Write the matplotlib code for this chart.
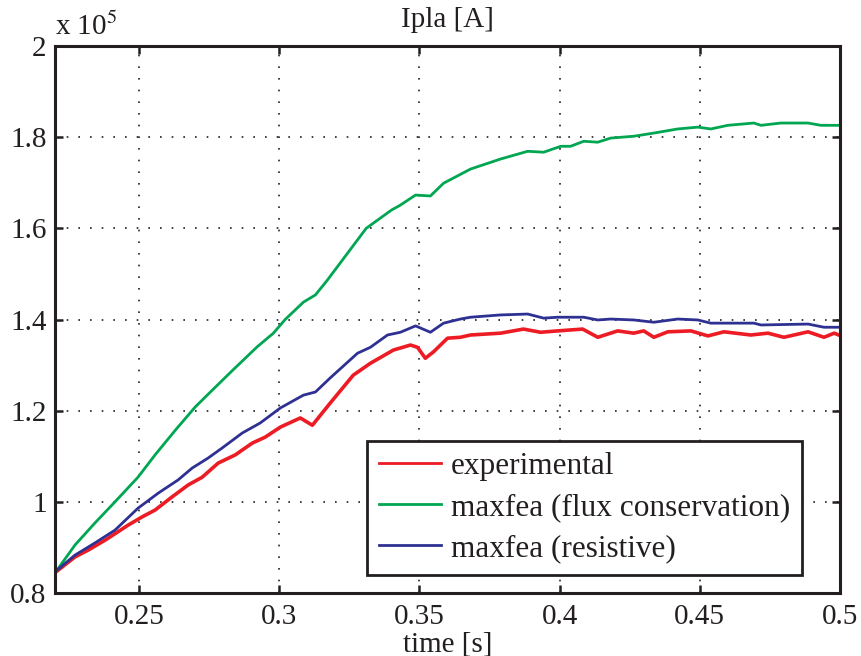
import matplotlib
matplotlib.use("Agg")
import matplotlib.pyplot as plt
from matplotlib.ticker import FixedLocator, FuncFormatter

plt.rcParams['font.family'] = ['Liberation Serif', 'DejaVu Serif']
plt.rcParams['mathtext.fontset'] = 'stix'

# time [s] and Ipla [x 1e5 A]
t_exp = [0.2207, 0.2271, 0.2318, 0.2379, 0.2461, 0.2511, 0.2557, 0.2618, 0.2675, 0.2725,
         0.2782, 0.2843, 0.2904, 0.2950, 0.3004, 0.3075, 0.3118, 0.3182, 0.3264, 0.3325,
         0.3407, 0.3468, 0.3493, 0.3521, 0.3550, 0.3600, 0.3646, 0.3682, 0.3789, 0.3871,
         0.3932, 0.3993, 0.4082, 0.4136, 0.4207, 0.4264, 0.4300, 0.4336, 0.4386, 0.4468,
         0.4529, 0.4586, 0.4682, 0.4743, 0.4800, 0.4886, 0.4943, 0.4979, 0.5004]
i_exp = [0.848, 0.879, 0.894, 0.916, 0.949, 0.967, 0.982, 1.011, 1.037, 1.054,
         1.085, 1.103, 1.129, 1.142, 1.164, 1.184, 1.168, 1.217, 1.278, 1.304,
         1.333, 1.344, 1.339, 1.315, 1.329, 1.359, 1.361, 1.366, 1.370, 1.379,
         1.372, 1.375, 1.379, 1.361, 1.375, 1.370, 1.375, 1.361, 1.373, 1.375,
         1.364, 1.373, 1.366, 1.370, 1.361, 1.373, 1.361, 1.370, 1.364]

t_flux = [0.2207, 0.2271, 0.2343, 0.2414, 0.2496, 0.2557, 0.2629, 0.2700, 0.2761, 0.2836,
          0.2921, 0.2979, 0.3021, 0.3086, 0.3129, 0.3171, 0.3310, 0.3400, 0.3432,
          0.3486, 0.3539, 0.3586, 0.3682, 0.3789, 0.3886, 0.3943, 0.4004, 0.4039, 0.4086,
          0.4136, 0.4182, 0.4264, 0.4336, 0.4421, 0.4493, 0.4539, 0.4600, 0.4693, 0.4718,
          0.4789, 0.4886, 0.4932, 0.5004]
i_flux = [0.850, 0.905, 0.954, 1.000, 1.054, 1.103, 1.157, 1.208, 1.245, 1.290,
          1.340, 1.370, 1.400, 1.438, 1.454, 1.486, 1.600, 1.640, 1.651,
          1.673, 1.671, 1.699, 1.730, 1.752, 1.769, 1.767, 1.780, 1.780, 1.791,
          1.789, 1.798, 1.802, 1.809, 1.818, 1.822, 1.818, 1.826, 1.831, 1.826,
          1.831, 1.831, 1.826, 1.826]

t_res = [0.2207, 0.2271, 0.2343, 0.2414, 0.2496, 0.2568, 0.2639, 0.2689, 0.2746, 0.2796,
         0.2868, 0.2932, 0.3004, 0.3086, 0.3129, 0.3182, 0.3279, 0.3325, 0.3386, 0.3432,
         0.3486, 0.3539, 0.3586, 0.3646, 0.3682, 0.3789, 0.3886, 0.3943, 0.3993, 0.4086,
         0.4136, 0.4182, 0.4264, 0.4336, 0.4421, 0.4493, 0.4539, 0.4693, 0.4718, 0.4886,
         0.4943, 0.5004]
i_res = [0.850, 0.883, 0.910, 0.938, 0.986, 1.019, 1.048, 1.074, 1.096, 1.118,
         1.151, 1.173, 1.206, 1.234, 1.241, 1.272, 1.326, 1.339, 1.366, 1.372,
         1.386, 1.372, 1.392, 1.401, 1.405, 1.410, 1.412, 1.403, 1.405, 1.405,
         1.399, 1.401, 1.399, 1.394, 1.401, 1.399, 1.392, 1.392, 1.388, 1.390,
         1.383, 1.383]

labels = ['experimental', 'maxfea (flux conservation)', 'maxfea (resistive)']
colors = ['#ed1c24', '#00a651', '#2e3192']

x_ticks = [0.25, 0.3, 0.35, 0.4, 0.45, 0.5]
y_ticks = [0.8, 1.0, 1.2, 1.4, 1.6, 1.8, 2.0]

FS = 21
ink = '#231f20'

fig = plt.figure(figsize=(8.62, 6.56), dpi=100)
ax = fig.add_axes([55/862, 1 - 593/656, 785/862, 547/656])

ax.plot(t_exp, i_exp, color=colors[0], lw=2.6, label=labels[0])
ax.plot(t_flux, i_flux, color=colors[1], lw=2.0, label=labels[1])
ax.plot(t_res, i_res, color=colors[2], lw=2.0, label=labels[2])

ax.set_xlim(0.22, 0.5)
ax.set_ylim(0.8, 2.0)
ax.xaxis.set_major_locator(FixedLocator(x_ticks))
ax.yaxis.set_major_locator(FixedLocator(y_ticks))
ax.xaxis.set_major_formatter(FuncFormatter(lambda v, p: '%g' % v))
ax.yaxis.set_major_formatter(FuncFormatter(lambda v, p: '%g' % v))
ax.tick_params(direction='in', top=True, right=True, length=6, width=1.8,
               labelsize=FS, colors=ink)
ax.tick_params(axis='x', pad=8)
ax.tick_params(axis='y', pad=6)
ax.grid(True, color=ink, linestyle=(0, (1, 6)), linewidth=1.2)
for s in ax.spines.values():
    s.set_linewidth(2.2)
    s.set_color(ink)

ax.set_title('Ipla [A]', fontsize=FS, pad=14, color=ink)
ax.set_xlabel('time [s]', fontsize=FS, labelpad=1, color=ink)
fig.text(55/862, 1 - 35/656, r'x 10$^{5}$', fontsize=FS, color=ink, va='baseline')

leg = ax.legend(loc='lower right', bbox_to_anchor=((802 - 55) / 785, (593 - 575) / 547),
                borderaxespad=0, fontsize=22.5, handlelength=2.0, frameon=True,
                fancybox=False, labelspacing=0.38, borderpad=0.38, handletextpad=0.3)
leg.get_frame().set_edgecolor(ink)
leg.get_frame().set_linewidth(2.0)
leg.get_frame().set_alpha(1)
for txt in leg.get_texts():
    txt.set_color(ink)
for ln in leg.get_lines():
    ln.set_linewidth(2.0)

fig.savefig('out.png', dpi=100)
